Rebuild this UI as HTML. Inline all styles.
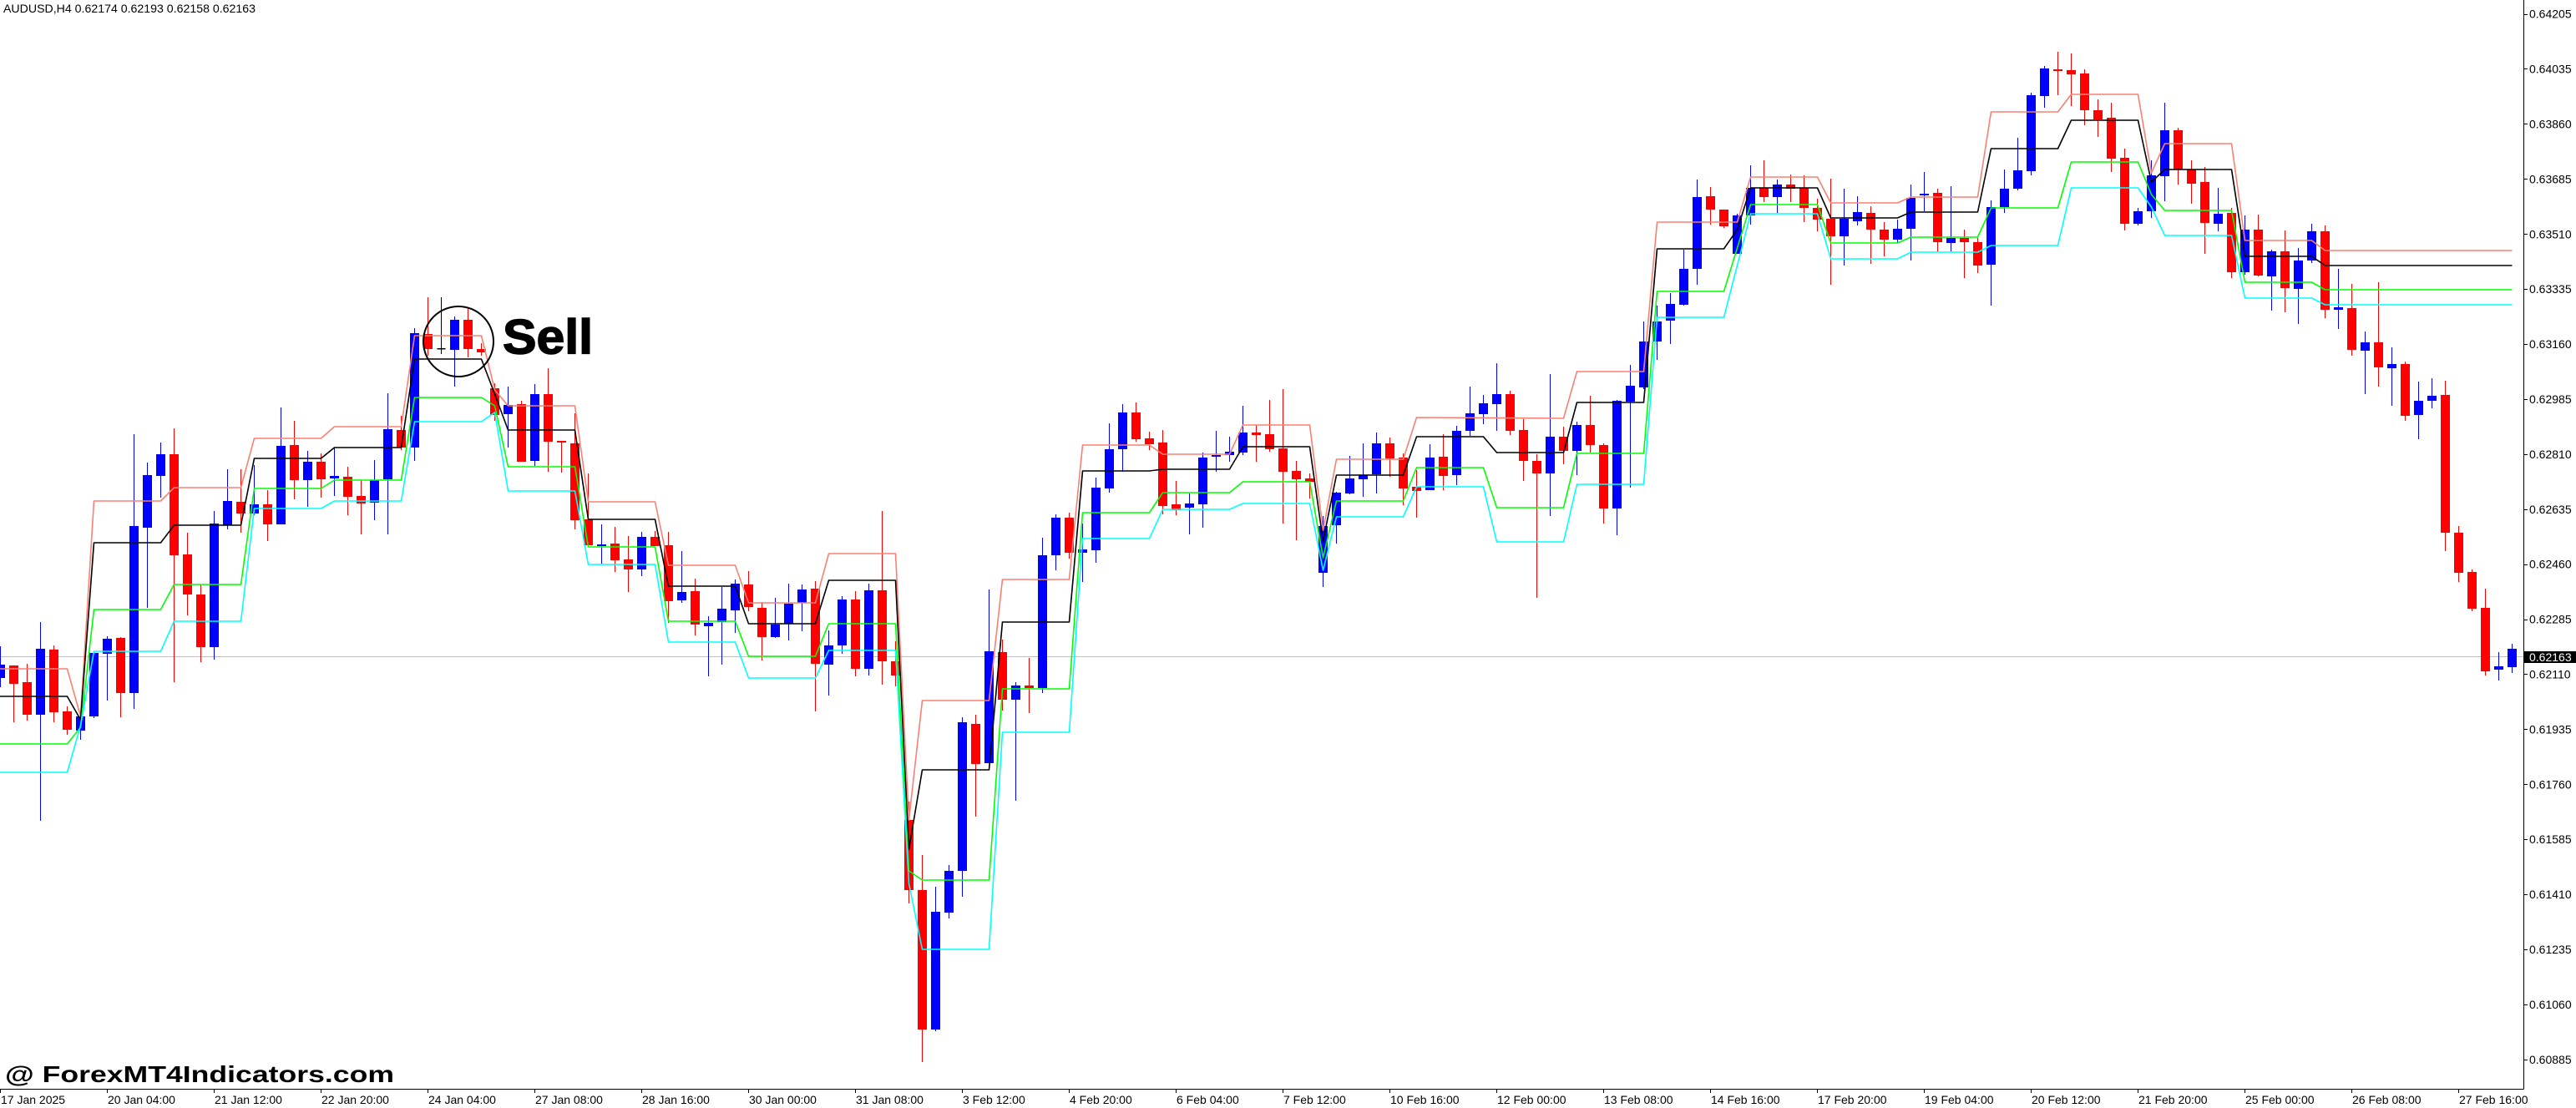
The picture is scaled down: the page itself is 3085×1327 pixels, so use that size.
<!DOCTYPE html>
<html><head><meta charset="utf-8"><style>
html,body{margin:0;padding:0;background:#fff;overflow:hidden}
svg{display:block}
text{font-family:"Liberation Sans",Arial,sans-serif}
</style></head><body>
<svg width="3085" height="1327" viewBox="0 0 3085 1327" xmlns="http://www.w3.org/2000/svg">
<rect width="3085" height="1327" fill="#fff"/>
<path d="M0 786.5H3022" stroke="#c0c0c0" stroke-width="1"/>
<g fill="none" stroke-linecap="butt">
<path stroke="#0000ff" stroke-width="1" d="M0.5 774V823 M48.5 745V983 M96.5 856V886 M112.5 780V860 M128.5 762V839 M160.5 520V849 M176.5 554V728 M192.5 530V596 M256.5 612V790 M272.5 562V634 M304.5 557V617 M336.5 488V628 M368.5 540V607 M400.5 537V594 M448.5 551V623 M464.5 471V640 M496.5 393V552 M544.5 379V463 M608.5 463V536 M640.5 460V558 M720.5 628V675 M768.5 637V690 M816.5 660V722 M848.5 738V810 M864.5 703V796 M880.5 694V758 M928.5 716V764 M944.5 699V767 M960.5 700V756 M992.5 755V833 M1008.5 714V783 M1040.5 699V809 M1120.5 1062V1235 M1136.5 1036V1100 M1152.5 859V1074 M1184.5 706V914 M1216.5 817V959 M1248.5 644V830 M1264.5 616V683 M1296.5 627V697 M1312.5 572V674 M1328.5 507V590 M1344.5 484V565 M1424.5 591V640 M1440.5 542V632 M1456.5 516V565 M1472.5 523V553 M1488.5 486V545 M1584.5 618V703 M1600.5 589V651 M1616.5 546V592 M1632.5 531V595 M1648.5 518V591 M1712.5 532V587 M1744.5 510V581 M1760.5 463V522 M1776.5 473V508 M1792.5 435V516 M1856.5 448V618 M1888.5 505V569 M1936.5 479V641 M1952.5 437V584 M1968.5 385V466 M1984.5 366V431 M2000.5 351V412 M2016.5 299V366 M2032.5 215V341 M2080.5 256V304 M2096.5 198V269 M2128.5 215V255 M2208.5 226V318 M2224.5 235V270 M2272.5 263V291 M2288.5 221V312 M2304.5 206V253 M2336.5 223V301 M2384.5 240V366 M2400.5 203V255 M2416.5 165V228 M2432.5 111V210 M2448.5 79V129 M2560.5 249V270 M2576.5 192V261 M2592.5 123V241 M2656.5 225V277 M2688.5 258V329 M2720.5 299V372 M2752.5 297V388 M2768.5 268V315 M2800.5 322V394 M2832.5 397V472 M2864.5 416V486 M2896.5 457V526 M2912.5 453V489 M2992.5 781V815 M3008.5 771V806"/>
<path stroke="#0000ff" stroke-width="11" d="M0.5 796V812 M48.5 777V856 M96.5 858V875 M112.5 782V858 M128.5 765V783 M160.5 630V830 M176.5 569V632 M192.5 544V570 M256.5 627V775 M272.5 600V629 M304.5 604V615 M336.5 534V628 M368.5 553V575 M400.5 570V573 M448.5 575V602 M464.5 514V574 M496.5 399V536 M544.5 383V419 M608.5 485V496 M640.5 472V552 M720.5 652V654 M768.5 643V682 M816.5 709V719 M848.5 746V750 M864.5 729V745 M880.5 699V731 M928.5 748V763 M944.5 723V747 M960.5 706V722 M992.5 773V796 M1008.5 718V773 M1040.5 707V801 M1120.5 1092V1233 M1136.5 1043V1093 M1152.5 865V1043 M1184.5 780V914 M1216.5 821V838 M1248.5 665V824 M1264.5 620V665 M1296.5 658V662 M1312.5 584V659 M1328.5 538V585 M1344.5 494V538 M1424.5 603V608 M1440.5 548V604 M1456.5 545V547 M1472.5 541V545 M1488.5 518V542 M1584.5 630V686 M1600.5 590V629 M1616.5 573V591 M1632.5 569V574 M1648.5 531V568 M1712.5 548V587 M1744.5 516V569 M1760.5 495V516 M1776.5 483V496 M1792.5 472V484 M1856.5 523V567 M1888.5 509V540 M1936.5 480V609 M1952.5 462V481 M1968.5 409V464 M1984.5 385V409 M2000.5 364V384 M2016.5 322V365 M2032.5 236V322 M2080.5 258V304 M2096.5 225V258 M2128.5 221V236 M2208.5 262V283 M2224.5 254V265 M2272.5 274V287 M2288.5 237V274 M2304.5 232V234 M2336.5 285V291 M2384.5 248V317 M2400.5 226V248 M2416.5 204V226 M2432.5 114V205 M2448.5 82V115 M2560.5 253V268 M2576.5 210V253 M2592.5 156V211 M2656.5 256V268 M2688.5 275V326 M2720.5 301V331 M2752.5 312V346 M2768.5 277V312 M2800.5 368V371 M2832.5 410V420 M2864.5 436V441 M2896.5 480V497 M2912.5 474V480 M2992.5 798V802 M3008.5 777V799"/>
<path stroke="#ff0000" stroke-width="1" d="M16.5 797V865 M32.5 795V863 M64.5 773V865 M80.5 846V880 M144.5 763V859 M208.5 513V817 M224.5 638V737 M240.5 700V793 M288.5 562V638 M320.5 587V648 M352.5 504V598 M384.5 543V596 M416.5 559V617 M432.5 575V640 M480.5 498V539 M512.5 356V426 M560.5 369V428 M576.5 411V426 M592.5 459V504 M624.5 480V553 M656.5 441V565 M672.5 528V566 M688.5 495V634 M704.5 567V653 M736.5 631V685 M752.5 642V709 M784.5 636V654 M800.5 637V746 M832.5 693V761 M896.5 684V732 M912.5 721V791 M976.5 696V852 M1024.5 708V810 M1056.5 612V820 M1072.5 768V822 M1088.5 960V1082 M1104.5 1024V1272 M1168.5 856V978 M1200.5 766V851 M1232.5 788V854 M1280.5 614V669 M1360.5 482V529 M1376.5 517V539 M1392.5 515V616 M1408.5 576V617 M1504.5 509V553 M1520.5 479V541 M1536.5 466V627 M1552.5 552V647 M1568.5 567V597 M1664.5 524V571 M1680.5 543V605 M1696.5 563V620 M1728.5 520V587 M1808.5 468V521 M1824.5 502V576 M1840.5 544V716 M1872.5 511V556 M1904.5 474V542 M1920.5 531V627 M2048.5 224V269 M2064.5 251V273 M2112.5 192V242 M2144.5 209V242 M2160.5 210V266 M2176.5 238V277 M2192.5 214V341 M2240.5 247V316 M2256.5 266V307 M2320.5 226V301 M2352.5 275V333 M2368.5 285V327 M2464.5 62V114 M2480.5 64V127 M2496.5 83V150 M2512.5 119V164 M2528.5 123V206 M2544.5 178V276 M2608.5 153V221 M2624.5 192V244 M2640.5 200V304 M2672.5 249V333 M2704.5 257V331 M2736.5 276V374 M2784.5 270V381 M2816.5 340V426 M2848.5 338V463 M2880.5 433V504 M2928.5 456V660 M2944.5 630V697 M2960.5 682V732 M2976.5 705V809"/>
<path stroke="#ff0000" stroke-width="11" d="M16.5 797V819 M32.5 817V856 M64.5 778V853 M80.5 852V874 M144.5 764V830 M208.5 544V665 M224.5 664V712 M240.5 712V775 M288.5 601V615 M320.5 604V628 M352.5 533V575 M384.5 553V574 M416.5 571V595 M432.5 594V603 M480.5 515V536 M512.5 400V418 M560.5 383V418 M576.5 418V422 M592.5 465V497 M624.5 484V553 M656.5 472V529 M672.5 528V530 M688.5 531V623 M704.5 622V653 M736.5 651V671 M752.5 670V682 M784.5 643V654 M800.5 653V720 M832.5 708V748 M896.5 700V727 M912.5 728V763 M976.5 705V795 M1024.5 718V801 M1056.5 707V792 M1072.5 792V809 M1088.5 982V1066 M1104.5 1066V1233 M1168.5 867V915 M1200.5 781V838 M1232.5 821V824 M1280.5 620V662 M1360.5 494V526 M1376.5 525V532 M1392.5 530V606 M1408.5 604V611 M1504.5 518V521 M1520.5 520V538 M1536.5 537V565 M1552.5 564V574 M1568.5 573V577 M1664.5 531V549 M1680.5 548V585 M1696.5 583V588 M1728.5 547V570 M1808.5 472V516 M1824.5 515V552 M1840.5 552V567 M1872.5 523V540 M1904.5 509V533 M1920.5 533V609 M2048.5 235V251 M2064.5 251V271 M2112.5 225V236 M2144.5 221V226 M2160.5 225V249 M2176.5 249V263 M2192.5 262V283 M2240.5 255V275 M2256.5 275V287 M2320.5 231V290 M2352.5 285V290 M2368.5 290V318 M2464.5 83V85 M2480.5 84V89 M2496.5 88V132 M2512.5 132V143 M2528.5 141V190 M2544.5 189V268 M2608.5 156V203 M2624.5 203V220 M2640.5 218V267 M2672.5 255V326 M2704.5 275V330 M2736.5 301V345 M2784.5 277V371 M2816.5 369V419 M2848.5 410V440 M2880.5 436V498 M2928.5 473V638 M2944.5 638V686 M2960.5 685V729 M2976.5 728V804"/>
<path stroke="#000" stroke-width="1" d="M528.5 356V424"/>
<path stroke="#000" stroke-width="10" d="M528.5 417V418.5"/>
</g>
<g fill="none" stroke-width="1.6" stroke-linejoin="round">
<polyline stroke="#fa8072" points="0,801 80.5,801 96.5,858 112.5,600 192.5,600 208.5,584 288.5,584 304.5,525 384.5,525 400.5,511 480.5,511 496.5,402 576.5,402 592.5,467 608.5,486 688.5,486 704.5,601 784.5,601 800.5,677 880.5,677 896.5,722 976.5,722 992.5,663 1072.5,663 1088.5,982 1104.5,839 1184.5,839 1200.5,694 1280.5,694 1296.5,533 1376.5,533 1392.5,544 1472.5,544 1488.5,509 1568.5,509 1584.5,635 1600.5,550 1680.5,550 1696.5,500 1872.5,501 1888.5,445 1968.5,445 1984.5,266 2080.5,266 2096.5,212 2176.5,212 2192.5,243 2272.5,243 2288.5,236 2368.5,236 2384.5,134 2464.5,134 2480.5,113 2560.5,113 2576.5,207 2592.5,172 2672.5,172 2688.5,288 2768.5,288 2784.5,300 3008.5,300"/>
<polyline stroke="#000" points="0,834 80.5,834 96.5,862 112.5,650 192.5,650 208.5,629 288.5,629 304.5,549 384.5,549 400.5,536 480.5,536 496.5,430 576.5,430 592.5,472 608.5,515 688.5,515 704.5,622 784.5,622 800.5,702 880.5,702 896.5,747 976.5,747 992.5,695 1072.5,695 1088.5,1017 1104.5,922 1184.5,922 1200.5,745 1280.5,745 1296.5,564 1376.5,564 1392.5,562 1472.5,562 1488.5,535 1568.5,535 1584.5,648 1600.5,569 1680.5,569 1696.5,523 1776.5,523 1792.5,542 1872.5,542 1888.5,482 1968.5,482 1984.5,298 2064.5,298 2080.5,275 2096.5,225 2176.5,225 2192.5,261 2272.5,261 2288.5,254 2368.5,254 2384.5,178 2464.5,178 2480.5,144 2560.5,144 2576.5,218 2592.5,203 2672.5,203 2688.5,307 2768.5,307 2784.5,318 3008.5,318"/>
<polyline stroke="#00ff00" points="0,891 80.5,891 96.5,871 112.5,730 192.5,730 208.5,700 288.5,700 304.5,585 384.5,585 400.5,575 480.5,575 496.5,476 576.5,476 592.5,486 608.5,559 688.5,559 704.5,655 784.5,655 800.5,744 880.5,744 896.5,786 976.5,786 992.5,747 1072.5,747 1088.5,1043 1104.5,1054 1184.5,1054 1200.5,825 1280.5,825 1296.5,614 1376.5,614 1392.5,590 1472.5,590 1488.5,577 1568.5,577 1584.5,668 1600.5,600 1680.5,600 1696.5,560 1776.5,560 1792.5,608 1872.5,608 1888.5,543 1968.5,543 1984.5,349 2064.5,349 2080.5,297 2096.5,245 2176.5,245 2192.5,291 2272.5,291 2288.5,284 2368.5,284 2384.5,249 2464.5,249 2480.5,194 2560.5,194 2576.5,233 2592.5,252 2672.5,252 2688.5,338 2768.5,338 2784.5,347 3008.5,347"/>
<polyline stroke="#00ffff" points="0,925 80.5,925 96.5,869 112.5,780 192.5,780 208.5,744 288.5,744 304.5,609 384.5,609 400.5,600 480.5,600 496.5,505 576.5,505 592.5,494 608.5,588 688.5,588 704.5,676 784.5,676 800.5,769 880.5,769 896.5,812 976.5,812 992.5,779 1072.5,779 1088.5,1058 1104.5,1137 1184.5,1137 1200.5,877 1280.5,877 1296.5,645 1376.5,645 1392.5,610 1472.5,610 1488.5,603 1568.5,603 1584.5,683 1600.5,619 1680.5,619 1696.5,583 1776.5,583 1792.5,649 1872.5,649 1888.5,580 1968.5,580 1984.5,380 2064.5,380 2080.5,318 2096.5,256 2176.5,256 2192.5,310 2272.5,310 2288.5,302 2368.5,302 2384.5,294 2464.5,294 2480.5,225 2560.5,225 2576.5,248 2592.5,282 2672.5,282 2688.5,357 2768.5,357 2784.5,365 3008.5,365"/>
</g>
<circle cx="549" cy="409" r="42" fill="none" stroke="#000" stroke-width="2"/>
<text x="602" y="423.5" font-size="58" font-weight="bold" fill="#000" stroke="#000" stroke-width="1.5" textLength="108" lengthAdjust="spacingAndGlyphs">Sell</text>
<text x="6" y="1296" font-size="28" font-weight="bold" fill="#000" textLength="466" lengthAdjust="spacingAndGlyphs">@ ForexMT4Indicators.com</text>
<text x="4" y="15" font-size="14" fill="#000" textLength="302" lengthAdjust="spacingAndGlyphs">AUDUSD,H4  0.62174 0.62193 0.62158 0.62163</text>
<path d="M3022.5 0V1304.5 M0 1304.5H3022.5" stroke="#000" stroke-width="1" fill="none"/>
<path stroke="#000" stroke-width="1" fill="none" d="M3022 17.5h5 M3022 82.5h5 M3022 148.5h5 M3022 214.5h5 M3022 280.5h5 M3022 346.5h5 M3022 412.5h5 M3022 478.5h5 M3022 544.5h5 M3022 610.5h5 M3022 676.5h5 M3022 742.5h5 M3022 807.5h5 M3022 873.5h5 M3022 939.5h5 M3022 1005.5h5 M3022 1071.5h5 M3022 1137.5h5 M3022 1203.5h5 M3022 1269.5h5 M0.5 1304v5 M128.5 1304v5 M256.5 1304v5 M384.5 1304v5 M512.5 1304v5 M640.5 1304v5 M768.5 1304v5 M896.5 1304v5 M1024.5 1304v5 M1152.5 1304v5 M1280.5 1304v5 M1408.5 1304v5 M1536.5 1304v5 M1664.5 1304v5 M1792.5 1304v5 M1920.5 1304v5 M2048.5 1304v5 M2176.5 1304v5 M2304.5 1304v5 M2432.5 1304v5 M2560.5 1304v5 M2688.5 1304v5 M2816.5 1304v5 M2944.5 1304v5"/>
<g font-size="14" fill="#000">
<text x="3029" y="21.7">0.64205</text>
<text x="3029" y="87.6">0.64035</text>
<text x="3029" y="153.5">0.63860</text>
<text x="3029" y="219.4">0.63685</text>
<text x="3029" y="285.3">0.63510</text>
<text x="3029" y="351.2">0.63335</text>
<text x="3029" y="417.1">0.63160</text>
<text x="3029" y="483">0.62985</text>
<text x="3029" y="548.9">0.62810</text>
<text x="3029" y="614.8">0.62635</text>
<text x="3029" y="680.7">0.62460</text>
<text x="3029" y="746.6">0.62285</text>
<text x="3029" y="812.5">0.62110</text>
<text x="3029" y="878.4">0.61935</text>
<text x="3029" y="944.3">0.61760</text>
<text x="3029" y="1010.2">0.61585</text>
<text x="3029" y="1076.1">0.61410</text>
<text x="3029" y="1142">0.61235</text>
<text x="3029" y="1207.9">0.61060</text>
<text x="3029" y="1273.8">0.60885</text>
</g>
<rect x="3023" y="780" width="62" height="14" fill="#000"/>
<text x="3029" y="792" font-size="14" fill="#fff">0.62163</text>
<g font-size="14" fill="#000">
<text x="1" y="1322">17 Jan 2025</text>
<text x="129" y="1322">20 Jan 04:00</text>
<text x="257" y="1322">21 Jan 12:00</text>
<text x="385" y="1322">22 Jan 20:00</text>
<text x="513" y="1322">24 Jan 04:00</text>
<text x="641" y="1322">27 Jan 08:00</text>
<text x="769" y="1322">28 Jan 16:00</text>
<text x="897" y="1322">30 Jan 00:00</text>
<text x="1025" y="1322">31 Jan 08:00</text>
<text x="1153" y="1322">3 Feb 12:00</text>
<text x="1281" y="1322">4 Feb 20:00</text>
<text x="1409" y="1322">6 Feb 04:00</text>
<text x="1537" y="1322">7 Feb 12:00</text>
<text x="1665" y="1322">10 Feb 16:00</text>
<text x="1793" y="1322">12 Feb 00:00</text>
<text x="1921" y="1322">13 Feb 08:00</text>
<text x="2049" y="1322">14 Feb 16:00</text>
<text x="2177" y="1322">17 Feb 20:00</text>
<text x="2305" y="1322">19 Feb 04:00</text>
<text x="2433" y="1322">20 Feb 12:00</text>
<text x="2561" y="1322">21 Feb 20:00</text>
<text x="2689" y="1322">25 Feb 00:00</text>
<text x="2817" y="1322">26 Feb 08:00</text>
<text x="2945" y="1322">27 Feb 16:00</text>
</g>
</svg>
</body></html>
